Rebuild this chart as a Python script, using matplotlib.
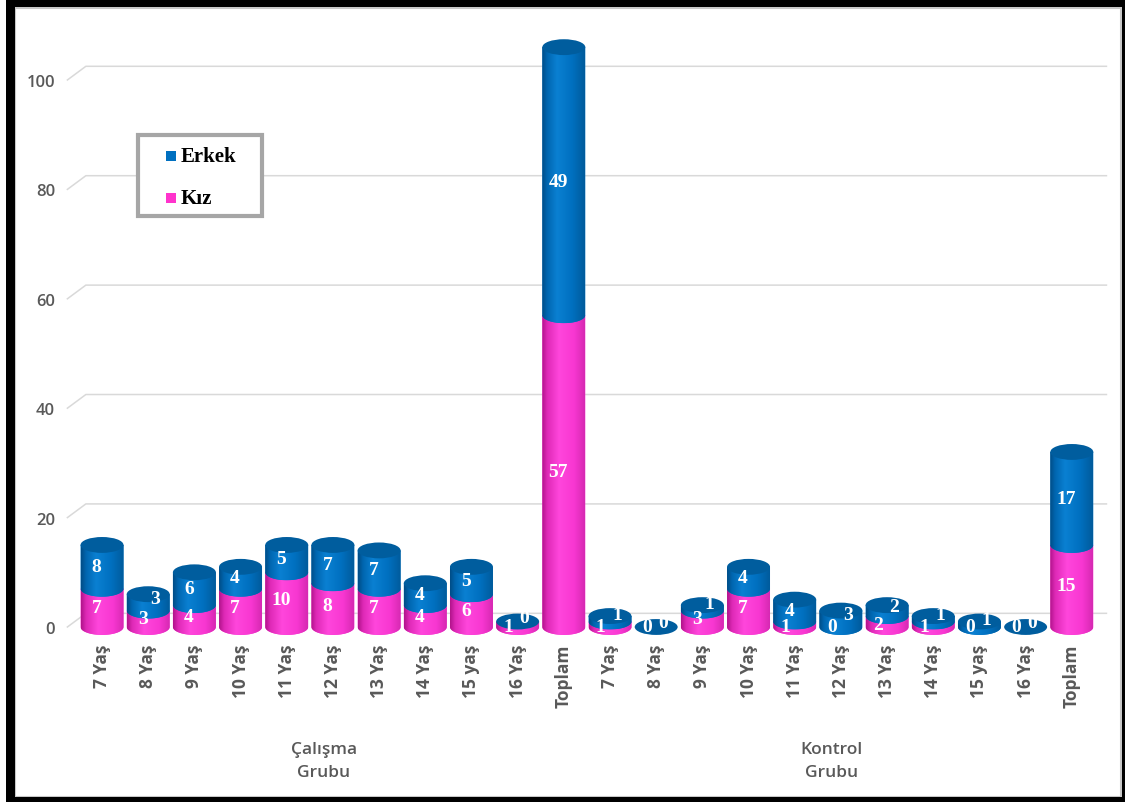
import numpy as np
import matplotlib.pyplot as plt
from matplotlib.patches import Ellipse, Rectangle, PathPatch
from matplotlib.path import Path
from matplotlib.colors import LinearSegmentedColormap
from matplotlib.transforms import blended_transform_factory

# data
ages = ["7 Yaş", "8 Yaş", "9 Yaş", "10 Yaş", "11 Yaş", "12 Yaş", "13 Yaş",
        "14 Yaş", "15 yaş", "16 Yaş", "Toplam"]
groups = ["Çalışma\nGrubu", "Kontrol\nGrubu"]
calisma_kiz = [7, 3, 4, 7, 10, 8, 7, 4, 6, 1, 57]
calisma_erkek = [8, 3, 6, 4, 5, 7, 7, 4, 5, 0, 49]
kontrol_kiz = [1, 0, 3, 7, 1, 0, 2, 1, 0, 0, 15]
kontrol_erkek = [1, 0, 1, 4, 4, 3, 2, 1, 1, 0, 17]
series = ["Erkek", "Kız"]
yticks = [0, 20, 40, 60, 80, 100]

kiz = calisma_kiz + kontrol_kiz
erkek = calisma_erkek + kontrol_erkek
labels = ages + ages
x = np.arange(len(labels))

blue = "#0070C0"
pink = "#FF33CC"
blue_cmap = LinearSegmentedColormap.from_list(
    "b", [(0, "#004c86"), (0.12, "#0066b0"), (0.35, "#0a80d2"), (0.7, "#0070c0"), (1, "#005b9c")])
pink_cmap = LinearSegmentedColormap.from_list(
    "p", [(0, "#b0148a"), (0.12, "#de29b6"), (0.4, "#ff46dc"), (0.75, "#f837d1"), (1, "#d629b2")])
grad = np.linspace(0, 1, 256).reshape(1, -1)

W, H = 1125, 803
fig = plt.figure(figsize=(W / 100, H / 100), dpi=100)
ax = fig.add_axes([0.0599, 0.1975, 0.9236, 0.7834])

w = 0.93   # bar width
e = 1.45   # half height of the ellipses (data units)


def body(ax, xc, lo, hi, cmap, z):
    t = np.linspace(np.pi, 2 * np.pi, 60)
    verts = [(xc - w / 2, hi), (xc - w / 2, lo)]
    verts += list(zip(xc + w / 2 * np.cos(t), lo + e * np.sin(t)))
    verts += [(xc + w / 2, lo), (xc + w / 2, hi), (xc - w / 2, hi)]
    codes = [Path.MOVETO] + [Path.LINETO] * (len(verts) - 2) + [Path.CLOSEPOLY]
    p = PathPatch(Path(verts, codes), facecolor=cmap(0.6), edgecolor="none", zorder=z)
    ax.add_patch(p)
    im = ax.imshow(grad, cmap=cmap, extent=[xc - w / 2, xc + w / 2, lo - e, hi],
                   aspect="auto", zorder=z, interpolation="bilinear")
    im.set_clip_path(p)


lab = dict(color="white", fontsize=14, fontweight="bold", family="Liberation Serif",
           ha="center", va="center", zorder=6)
for i in x:
    k, m = kiz[i], erkek[i]
    if k > 0:
        body(ax, i, 0, k, pink_cmap, 2)
    if m > 0:
        body(ax, i, k, k + m, blue_cmap, 3)
    ax.add_patch(Ellipse((i, k + m), w, 2 * e, facecolor="#005d9e", edgecolor="none", zorder=4))

    # value labels, small segments get pushed aside like in Excel
    if k <= 2:
        ax.text(i - 0.2, max(k / 2 - 0.5, 0), str(k), **lab)
    else:
        ax.text(i - 0.12, k / 2, str(k), **lab)
    if m <= 3:
        ax.text(i + 0.15, k + m / 2 + 0.8, str(m), **lab)
    else:
        ax.text(i - 0.12, k + m / 2, str(m), **lab)

# back wall gridlines
for y in yticks:
    ax.plot([-0.75, -0.35, 21.75], [y, y + 2.5, y + 2.5], color="#D9D9D9", lw=1.1,
            zorder=0, clip_on=False)

ax.set_xlim(-0.75, 21.75)
ax.set_ylim(-3, 112)
for s in ax.spines.values():
    s.set_visible(False)
ax.set_yticks(yticks)
ax.set_yticklabels([str(v) for v in yticks], color="#595959", fontsize=12,
                   family="Open Sans", fontweight="semibold")
ax.set_xticks(x)
ax.set_xticklabels(labels, rotation=90, color="#595959", fontsize=12.5,
                   family="Open Sans", fontweight="bold")
ax.tick_params(axis="y", length=0, pad=9)
ax.tick_params(axis="x", length=0, pad=0)

# group labels under the ticks
tr = blended_transform_factory(ax.transData, fig.transFigure)
for g, idx in zip(groups, [x[:11], x[11:]]):
    ax.text(np.mean(idx) - 0.2, 0.052, g, transform=tr, ha="center", va="center",
            color="#595959", fontsize=12.5, family="Open Sans", fontweight="semibold",
            linespacing=1.55)


def fx(px):
    return px / W


def fy(py):
    return 1 - py / H


# legend box
fig.patches.append(Rectangle((fx(138), fy(217)), fx(124), 81 / H, transform=fig.transFigure,
                             facecolor="white", edgecolor="#A6A6A6", lw=3, zorder=8))
for name, col, yc in zip(series, [blue, pink], [157, 199]):
    fig.patches.append(Rectangle((fx(166), fy(yc + 5)), fx(10), 10 / H,
                                 transform=fig.transFigure, facecolor=col,
                                 edgecolor="none", zorder=9))
    fig.text(fx(181), fy(yc), name, ha="left", va="center", fontsize=15,
             family="Liberation Serif", fontweight="bold", color="black", zorder=9)

# outer black frame
frame = [(6, 0, 9, 803), (6, 795, 1119, 8), (1122, 0, 3, 803), (6, 0, 1119, 5)]
for x0, y0, fw, fh in frame:
    fig.patches.append(Rectangle((x0 / W, y0 / H), fw / W, fh / H, transform=fig.transFigure,
                                 facecolor="black", edgecolor="none", zorder=10))
fig.patches.append(Rectangle((15 / W, 5 / H), 1106 / W, 789 / H, transform=fig.transFigure,
                             facecolor="none", edgecolor="#C8C8C8", lw=1.5, zorder=9))

fig.savefig("out.png", dpi=100)
